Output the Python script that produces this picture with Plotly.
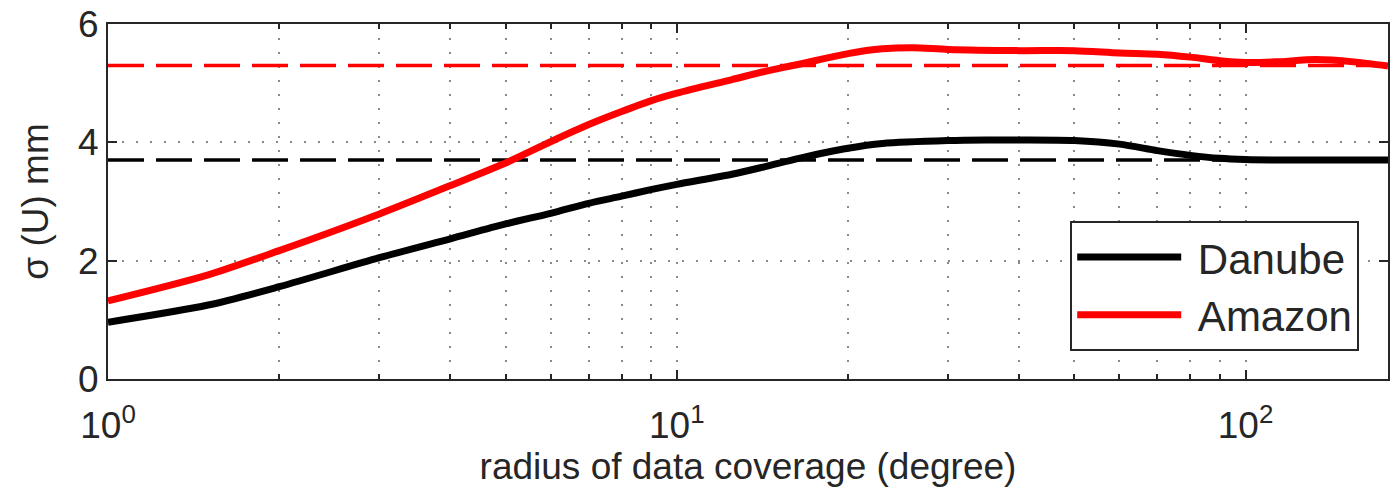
import numpy as np
import plotly.graph_objects as go

# ---- data ----
danube_r = [1, 1.5, 2, 3, 4, 5, 6, 7, 8, 9, 10, 12.5, 14.3, 16.4, 20, 23, 30, 35, 40,
            50, 60, 70, 80, 90, 100, 120, 150, 178]
danube_sigma = [0.96, 1.25, 1.56, 2.05, 2.37, 2.62, 2.80, 2.97, 3.09, 3.20, 3.29, 3.46,
                3.59, 3.73, 3.90, 3.98, 4.03, 4.04, 4.04, 4.03, 3.97, 3.86, 3.78, 3.73,
                3.71, 3.70, 3.70, 3.70]

amazon_r = [1, 1.5, 2, 3, 4, 5, 6, 7, 8, 9, 10, 12.5, 14.3, 16.4, 20, 23, 26, 30, 40,
            50, 60, 70, 80, 90, 100, 113, 133, 155, 178]
amazon_sigma = [1.32, 1.76, 2.17, 2.79, 3.27, 3.65, 4.01, 4.30, 4.52, 4.70, 4.83, 5.06,
                5.20, 5.32, 5.50, 5.58, 5.60, 5.57, 5.55, 5.55, 5.51, 5.49, 5.44, 5.38,
                5.35, 5.36, 5.40, 5.36, 5.29]

series_names = ["Danube", "Amazon"]

ref_r = [1, 178]
danube_ref = 3.7
amazon_ref = 5.3

x_ticks = [1, 10, 100]
x_ticktext = ["10<sup>0</sup>", "10<sup>1</sup>", "10<sup>2</sup>"]
x_minor = [2, 3, 4, 5, 6, 7, 8, 9, 20, 30, 40, 50, 60, 70, 80, 90]
y_ticks = [0, 2, 4, 6]

AX = "#262626"
GRID = "#8a8a8a"
FONT = "Liberation Sans, Arial, sans-serif"
PAD = "\u00a0"  # small visual gap between legend sample line and label

fig = go.Figure()
fig.add_trace(go.Scatter(x=ref_r, y=[amazon_ref] * 2, mode="lines", showlegend=False,
                         line=dict(color="#ff0000", width=3.5, dash="36px,12px")))
fig.add_trace(go.Scatter(x=ref_r, y=[danube_ref] * 2, mode="lines", showlegend=False,
                         line=dict(color="#000000", width=3.5, dash="36px,12px")))
fig.add_trace(go.Scatter(x=danube_r, y=danube_sigma, mode="lines", name=PAD + series_names[0],
                         line=dict(color="#000000", width=7, shape="spline", smoothing=0.8)))
fig.add_trace(go.Scatter(x=amazon_r, y=amazon_sigma, mode="lines", name=PAD + series_names[1],
                         line=dict(color="#ff0000", width=7, shape="spline", smoothing=0.8)))

fig.update_layout(
    width=1394, height=496,
    margin=dict(l=108, r=4, t=22, b=117),
    paper_bgcolor="white", plot_bgcolor="white",
    font=dict(family=FONT, color=AX, size=37),
    xaxis=dict(
        type="log", range=[0, np.log10(178)],
        tickmode="array", tickvals=x_ticks, ticktext=x_ticktext,
        ticks="inside", ticklen=9, tickwidth=2, tickcolor=AX,
        showline=True, linecolor=AX, linewidth=2, mirror="ticks",
        showgrid=True, gridcolor=GRID, gridwidth=1.5, griddash="2px,12px",
        minor=dict(tickmode="array", tickvals=x_minor, ticks="inside", ticklen=5,
                   tickwidth=1.5, tickcolor=AX, showgrid=True, gridcolor=GRID,
                   gridwidth=1.5, griddash="2px,12px"),
        tickfont=dict(size=37, color=AX),
        ticklabelstandoff=13,
        title=dict(text="radius of data coverage (degree)", font=dict(size=37, color=AX),
                   standoff=7),
        zeroline=False,
    ),
    yaxis=dict(
        range=[0, 6], tickmode="array", tickvals=y_ticks,
        ticks="inside", ticklen=9, tickwidth=2, tickcolor=AX,
        showline=True, linecolor=AX, linewidth=2, mirror="ticks",
        showgrid=True, gridcolor=GRID, gridwidth=1.5, griddash="2px,12px",
        tickfont=dict(size=37, color=AX),
        title=dict(text="σ (U) mm", font=dict(size=37, color=AX), standoff=18),
        zeroline=False,
    ),
    legend=dict(
        x=0.9775, y=0.078, xanchor="right", yanchor="bottom",
        bgcolor="white", bordercolor=AX, borderwidth=2,
        font=dict(size=42, color=AX), itemwidth=104, tracegroupgap=0,
    ),
)

fig.write_html("out.html")
